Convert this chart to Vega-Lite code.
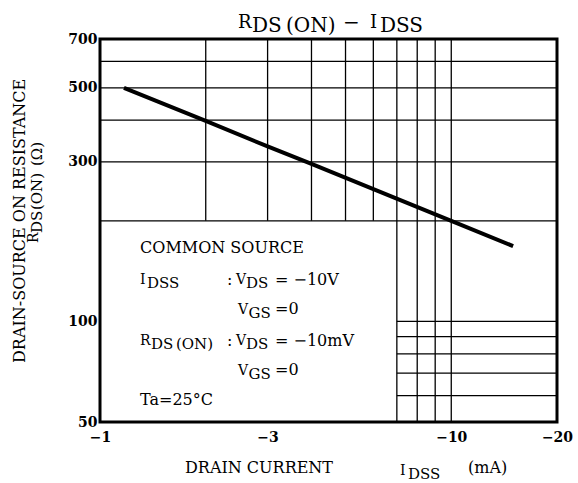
{
  "$schema": "https://vega.github.io/schema/vega-lite/v6.json",
  "width": 457,
  "height": 383,
  "autosize": {"type": "none"},
  "padding": {"left": 100, "top": 39, "right": 21, "bottom": 61},
  "background": "white",
  "config": {
    "view": {"stroke": "black", "strokeWidth": 3},
    "font": "DejaVu Serif",
    "text": {"font": "DejaVu Serif", "color": "black"}
  },
  "datasets": {
    "grid": [
      {"x": 2, "x2": 2, "y": 200, "y2": 700},
      {"x": 3, "x2": 3, "y": 200, "y2": 700},
      {"x": 4, "x2": 4, "y": 200, "y2": 700},
      {"x": 5, "x2": 5, "y": 200, "y2": 700},
      {"x": 6, "x2": 6, "y": 200, "y2": 700},
      {"x": 7, "x2": 7, "y": 50, "y2": 700},
      {"x": 8, "x2": 8, "y": 50, "y2": 700},
      {"x": 9, "x2": 9, "y": 50, "y2": 700},
      {"x": 10, "x2": 10, "y": 50, "y2": 700},
      {"x": 1, "x2": 20, "y": 200, "y2": 200},
      {"x": 1, "x2": 20, "y": 300, "y2": 300},
      {"x": 1, "x2": 20, "y": 400, "y2": 400},
      {"x": 1, "x2": 20, "y": 500, "y2": 500},
      {"x": 1, "x2": 20, "y": 600, "y2": 600},
      {"x": 7, "x2": 20, "y": 60, "y2": 60},
      {"x": 7, "x2": 20, "y": 70, "y2": 70},
      {"x": 7, "x2": 20, "y": 80, "y2": 80},
      {"x": 7, "x2": 20, "y": 90, "y2": 90},
      {"x": 7, "x2": 20, "y": 100, "y2": 100}
    ],
    "curve": [
      {"x": 1.17, "y": 500},
      {"x": 2, "y": 398},
      {"x": 3, "y": 334},
      {"x": 4, "y": 296},
      {"x": 10, "y": 200},
      {"x": 15, "y": 168}
    ],
    "notes": [
      {"t": "COMMON SOURCE", "x": 1.30, "y": 160.5, "k": "txt"},
      {"t": "I", "x": 1.30, "y": 129.1, "k": "big"},
      {"t": "DSS", "x": 1.361, "y": 125.6, "k": "sub"},
      {"t": ":", "x": 2.299, "y": 128.5, "k": "txt"},
      {"t": "V", "x": 2.438, "y": 129.1, "k": "big"},
      {"t": "DS", "x": 2.604, "y": 125.6, "k": "sub"},
      {"t": "= −10V", "x": 3.149, "y": 128.5, "k": "txt"},
      {"t": "V", "x": 2.471, "y": 105.2, "k": "big"},
      {"t": "GS", "x": 2.647, "y": 102.4, "k": "sub"},
      {"t": "=0", "x": 3.149, "y": 104.9, "k": "txt"},
      {"t": "R", "x": 1.30, "y": 85.0, "k": "big"},
      {"t": "DS", "x": 1.397, "y": 82.7, "k": "sub"},
      {"t": "(ON)", "x": 1.645, "y": 82.7, "k": "sub"},
      {"t": ":", "x": 2.299, "y": 84.4, "k": "txt"},
      {"t": "V", "x": 2.438, "y": 85.0, "k": "big"},
      {"t": "DS", "x": 2.604, "y": 82.7, "k": "sub"},
      {"t": "= −10mV", "x": 3.149, "y": 84.4, "k": "txt"},
      {"t": "V", "x": 2.471, "y": 69.1, "k": "big"},
      {"t": "GS", "x": 2.647, "y": 67.2, "k": "sub"},
      {"t": "=0", "x": 3.149, "y": 68.9, "k": "txt"},
      {"t": "Ta=25°C", "x": 1.30, "y": 56.2, "k": "txt"},
      {"t": "DRAIN CURRENT", "x": 1.746, "y": 35.3, "k": "txt"},
      {"t": "I", "x": 7.144, "y": 34.72, "k": "big"},
      {"t": "DSS", "x": 7.529, "y": 33.77, "k": "sub"},
      {"t": "(mA)", "x": 11.16, "y": 35.2, "k": "txt"},
      {"t": "R", "x": 2.471, "y": 755.0, "k": "tbig"},
      {"t": "DS", "x": 2.708, "y": 734.5, "k": "ttl"},
      {"t": "(ON)", "x": 3.385, "y": 734.5, "k": "ttl"},
      {"t": "−", "x": 4.918, "y": 749.9, "k": "ttl"},
      {"t": "I", "x": 5.870, "y": 755.0, "k": "tbig"},
      {"t": "DSS", "x": 6.266, "y": 734.5, "k": "ttl"},
      {"t": "DRAIN-SOURCE ON RESISTANCE", "x": 0.6116, "y": 75.1, "k": "rtxt"},
      {"t": "R", "x": 0.6661, "y": 171.6, "k": "rbig"},
      {"t": "DS", "x": 0.6838, "y": 183.9, "k": "rsub"},
      {"t": "(ON)", "x": 0.6838, "y": 215.4, "k": "rsub"},
      {"t": "(Ω)", "x": 0.6838, "y": 291.7, "k": "rsub"}
    ]
  },
  "encoding": {
    "x": {
      "field": "x",
      "type": "quantitative",
      "scale": {"type": "log", "domain": [1, 20], "nice": false},
      "axis": {
        "title": null,
        "values": [1, 3, 10, 20],
        "labelExpr": "'−' + datum.value",
        "grid": false,
        "domain": false,
        "ticks": false,
        "labelPadding": 8,
        "labelFont": "DejaVu Serif",
        "labelFontSize": 14,
        "labelFontWeight": "bold",
        "labelColor": "black",
        "labelFlush": false,
        "labelOverlap": false
      }
    },
    "y": {
      "field": "y",
      "type": "quantitative",
      "scale": {"type": "log", "domain": [50, 700], "nice": false, "zero": false},
      "axis": {
        "title": null,
        "values": [50, 100, 300, 500, 700],
        "grid": false,
        "domain": false,
        "ticks": false,
        "labelPadding": 3,
        "labelFont": "DejaVu Serif",
        "labelFontSize": 14,
        "labelFontWeight": "bold",
        "labelColor": "black",
        "labelFlush": false,
        "labelOverlap": false
      }
    }
  },
  "layer": [
    {
      "data": {"name": "grid"},
      "mark": {"type": "rule", "color": "black", "strokeWidth": 1.3},
      "encoding": {"x2": {"field": "x2"}, "y2": {"field": "y2"}}
    },
    {
      "data": {"name": "curve"},
      "mark": {"type": "line", "color": "black", "strokeWidth": 4},
      "encoding": {}
    },
    {
      "data": {"name": "notes"},
      "transform": [{"filter": "datum.k === 'txt'"}],
      "mark": {"type": "text", "align": "left", "baseline": "alphabetic", "fontSize": 16},
      "encoding": {"text": {"field": "t"}}
    },
    {
      "data": {"name": "notes"},
      "transform": [{"filter": "datum.k === 'big'"}],
      "mark": {"type": "text", "align": "left", "baseline": "alphabetic", "fontSize": 14},
      "encoding": {"text": {"field": "t"}}
    },
    {
      "data": {"name": "notes"},
      "transform": [{"filter": "datum.k === 'sub'"}],
      "mark": {"type": "text", "align": "left", "baseline": "alphabetic", "fontSize": 15},
      "encoding": {"text": {"field": "t"}}
    },
    {
      "data": {"name": "notes"},
      "transform": [{"filter": "datum.k === 'ttl'"}],
      "mark": {"type": "text", "align": "left", "baseline": "alphabetic", "fontSize": 20},
      "encoding": {"text": {"field": "t"}}
    },
    {
      "data": {"name": "notes"},
      "transform": [{"filter": "datum.k === 'tbig'"}],
      "mark": {"type": "text", "align": "left", "baseline": "alphabetic", "fontSize": 18},
      "encoding": {"text": {"field": "t"}}
    },
    {
      "data": {"name": "notes"},
      "transform": [{"filter": "datum.k === 'rtxt'"}],
      "mark": {"type": "text", "align": "left", "baseline": "alphabetic", "fontSize": 16, "angle": 270},
      "encoding": {"text": {"field": "t"}}
    },
    {
      "data": {"name": "notes"},
      "transform": [{"filter": "datum.k === 'rbig'"}],
      "mark": {"type": "text", "align": "left", "baseline": "alphabetic", "fontSize": 14, "angle": 270},
      "encoding": {"text": {"field": "t"}}
    },
    {
      "data": {"name": "notes"},
      "transform": [{"filter": "datum.k === 'rsub'"}],
      "mark": {"type": "text", "align": "left", "baseline": "alphabetic", "fontSize": 15, "angle": 270},
      "encoding": {"text": {"field": "t"}}
    }
  ]
}
